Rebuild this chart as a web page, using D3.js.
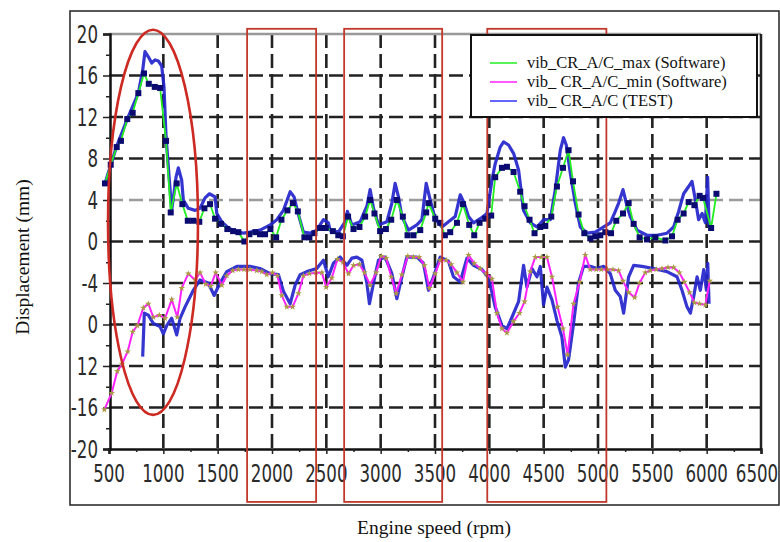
<!DOCTYPE html>
<html><head><meta charset="utf-8">
<script src="https://cdn.jsdelivr.net/npm/d3@7"></script>
<style>body{margin:0;background:#fff}svg{display:block}</style>
</head><body>
<svg id="chart" width="780" height="542"></svg>
<script>
// ---- data (engine speed rpm, displacement mm) ----
const maxSoftware = [[463,5.6],[516,7.4],[571,9.1],[610,9.7],[668,11.8],[718,12.4],[770,14.3],[822,16.2],[866,15.2],[921,14.9],[970,14.8],[1025,9.7],[1068,2.8],[1123,5.6],[1175,3.6],[1225,2.0],[1276,2.0],[1331,1.9],[1378,3.2],[1430,3.6],[1476,2.2],[1531,1.7],[1589,1.2],[1642,1.0],[1691,0.9],[1746,0.0],[1792,0.7],[1847,0.9],[1890,0.7],[1936,0.7],[1985,1.2],[2038,0.4],[2087,2.1],[2142,3.0],[2192,3.7],[2238,2.9],[2298,0.4],[2344,0.4],[2390,0.8],[2443,1.3],[2495,1.3],[2560,1.0],[2610,0.6],[2652,0.5],[2700,2.4],[2750,1.2],[2805,1.4],[2857,2.4],[2903,4.0],[2943,2.7],[2995,1.0],[3048,1.2],[3097,2.1],[3149,4.0],[3204,2.4],[3247,0.6],[3302,0.6],[3364,1.1],[3419,2.8],[3440,3.7],[3502,2.2],[3548,1.8],[3591,0.6],[3640,0.9],[3702,1.8],[3757,3.6],[3815,1.6],[3861,0.6],[3910,1.8],[3962,2.2],[4017,2.5],[4054,6.2],[4116,7.1],[4162,7.2],[4223,6.7],[4284,4.8],[4324,3.4],[4370,2.1],[4416,0.8],[4469,1.4],[4515,1.5],[4570,2.4],[4622,5.3],[4678,7.1],[4729,8.8],[4770,5.8],[4821,2.6],[4874,0.8],[4929,0.3],[4975,0.5],[5021,0.6],[5067,0.9],[5120,0.8],[5168,2.0],[5230,2.7],[5282,3.7],[5328,1.7],[5383,0.4],[5451,0.2],[5528,0.4],[5620,0.1],[5681,0.5],[5733,2.1],[5788,2.7],[5834,3.8],[5887,3.5],[5935,4.4],[5967,4.2],[6041,1.3],[6090,4.6]];

const minSoftware = [[457,-16.2],[525,-14.6],[576,-12.5],[620,-11.8],[672,-10.6],[718,-8.7],[761,-8.1],[816,-6.4],[862,-6.0],[908,-7.3],[963,-7.1],[1016,-7.4],[1077,-5.6],[1129,-7.3],[1169,-4.5],[1230,-3.1],[1292,-3.7],[1338,-3.0],[1390,-4.1],[1436,-4.3],[1482,-3.0],[1538,-4.2],[1584,-3.3],[1639,-2.8],[1691,-2.7],[1743,-2.7],[1798,-2.7],[1860,-2.8],[1906,-2.9],[1952,-3.2],[2004,-3.0],[2050,-3.3],[2090,-5.2],[2136,-6.3],[2190,-6.3],[2243,-5.0],[2289,-3.3],[2344,-3.1],[2403,-3.0],[2459,-3.0],[2498,-4.4],[2551,-3.5],[2602,-1.7],[2652,-2.0],[2704,-3.1],[2750,-2.3],[2805,-2.2],[2851,-3.0],[2903,-4.2],[2958,-3.0],[3005,-1.4],[3051,-1.6],[3097,-3.4],[3143,-5.0],[3195,-3.2],[3250,-1.4],[3302,-1.5],[3354,-1.5],[3403,-2.3],[3449,-4.5],[3502,-3.1],[3548,-1.8],[3603,-1.8],[3649,-2.2],[3702,-3.0],[3757,-3.9],[3809,-1.3],[3861,-2.1],[3916,-2.6],[3971,-3.1],[4024,-3.6],[4070,-6.9],[4116,-8.4],[4162,-8.8],[4223,-7.7],[4278,-6.9],[4324,-5.8],[4376,-2.9],[4423,-1.5],[4478,-1.5],[4530,-1.5],[4576,-3.4],[4628,-6.3],[4678,-8.4],[4720,-10.9],[4775,-6.0],[4831,-3.9],[4883,-1.3],[4929,-2.7],[4984,-2.7],[5030,-2.7],[5088,-2.7],[5138,-2.7],[5190,-2.8],[5230,-3.8],[5282,-4.9],[5337,-5.4],[5383,-4.0],[5435,-3.0],[5481,-2.8],[5537,-2.7],[5589,-2.6],[5644,-2.5],[5696,-2.5],[5749,-3.0],[5795,-3.9],[5843,-4.9],[5887,-5.9],[5935,-6.0],[5988,-6.1],[6028,-3.8]];

const testUpper = [[463,5.6],[571,9.2],[668,11.8],[770,14.3],[810,16.5],[831,18.3],[862,17.8],[893,17.2],[924,17.5],[954,17.4],[985,16.9],[1006,14.9],[1025,10.1],[1046,7.2],[1077,3.0],[1117,6.2],[1138,7.1],[1169,5.9],[1184,4.0],[1230,3.2],[1292,3.0],[1338,3.2],[1384,4.2],[1424,4.6],[1476,4.3],[1492,2.7],[1538,1.9],[1598,1.3],[1676,0.9],[1737,0.8],[1798,0.9],[1890,1.1],[1983,1.6],[2044,2.1],[2105,3.0],[2167,4.8],[2203,4.3],[2243,2.6],[2289,0.9],[2351,0.8],[2412,1.1],[2473,2.1],[2519,1.8],[2535,1.1],[2611,0.9],[2673,1.9],[2694,2.9],[2735,1.6],[2811,1.9],[2873,3.4],[2903,5.0],[2934,3.2],[2980,1.6],[3057,1.9],[3103,3.7],[3133,5.6],[3164,4.3],[3195,2.4],[3256,1.1],[3333,1.6],[3379,2.1],[3419,5.6],[3456,4.0],[3502,2.2],[3564,1.4],[3624,1.9],[3686,2.4],[3732,4.5],[3769,3.7],[3808,2.4],[3855,1.8],[3916,2.2],[3978,2.7],[4024,5.9],[4054,7.5],[4100,9.1],[4131,9.6],[4177,9.3],[4223,8.5],[4269,6.9],[4315,3.0],[4377,1.8],[4438,1.4],[4499,2.1],[4561,2.1],[4607,5.0],[4653,8.8],[4683,10.0],[4708,9.3],[4745,6.6],[4791,3.7],[4837,1.4],[4899,0.8],[4975,0.9],[5052,1.4],[5113,1.8],[5159,2.9],[5190,3.7],[5230,5.0],[5267,3.4],[5297,2.4],[5359,1.1],[5451,0.6],[5543,0.6],[5635,0.8],[5696,1.4],[5742,2.9],[5788,4.6],[5834,5.3],[5865,5.8],[5896,4.0],[5926,2.1],[5958,2.7],[5988,1.8],[6009,6.2],[6022,1.4]];

const testLower = [[810,-11.1],[825,-6.9],[862,-7.1],[908,-7.9],[970,-8.2],[1000,-8.9],[1031,-8.1],[1077,-7.4],[1123,-9.0],[1154,-7.4],[1200,-6.3],[1276,-4.7],[1338,-3.7],[1414,-4.0],[1467,-5.2],[1522,-4.0],[1584,-2.9],[1676,-2.4],[1798,-2.4],[1890,-2.6],[1983,-3.1],[2059,-3.2],[2105,-4.8],[2167,-6.0],[2213,-4.2],[2259,-3.2],[2320,-2.9],[2412,-2.6],[2473,-1.8],[2519,-3.4],[2565,-2.1],[2627,-1.5],[2689,-2.3],[2735,-1.6],[2781,-1.5],[2827,-1.8],[2873,-4.0],[2897,-6.0],[2934,-4.0],[2980,-1.8],[3041,-1.5],[3103,-3.1],[3149,-5.5],[3195,-3.4],[3241,-1.5],[3333,-1.5],[3394,-2.1],[3440,-4.7],[3486,-3.4],[3548,-1.5],[3624,-1.9],[3670,-3.4],[3732,-3.9],[3794,-1.6],[3855,-2.3],[3932,-2.7],[3993,-3.5],[4054,-6.3],[4116,-8.1],[4162,-8.4],[4208,-7.3],[4269,-5.8],[4315,-2.3],[4346,-4.4],[4392,-2.6],[4438,-3.4],[4469,-2.4],[4499,-6.1],[4530,-4.4],[4576,-5.6],[4622,-7.6],[4668,-9.2],[4699,-12.1],[4729,-11.4],[4775,-7.9],[4821,-4.0],[4867,-2.4],[4929,-2.4],[4991,-2.6],[5052,-2.4],[5113,-3.1],[5159,-4.7],[5205,-5.3],[5236,-6.9],[5282,-3.4],[5328,-2.3],[5405,-2.4],[5512,-2.6],[5635,-2.9],[5727,-3.4],[5773,-4.7],[5819,-6.3],[5850,-6.9],[5881,-5.3],[5912,-3.4],[5942,-4.7],[5973,-2.7],[5998,-4.7],[6010,-2.1],[6022,-6.0]];

const xTicks = [500,1000,1500,2000,2500,3000,3500,4000,4500,5000,5500,6000,6500];
const xTickLabels = ["500","1000","1500","2000","2500","3000","3500","4000","4500","5000","5500","6000","6500"];
const yTicks = [20,16,12,8,4,0,-4,-8,-12,-16,-20];
const yTickLabels = ["20","16","12","8","4","0","-4","0","12","-16","-20"];
const seriesNames = ["vib_CR_A/C_max (Software)","vib_ CR_A/C_min (Software)","vib_ CR_A/C (TEST)"];
const seriesColors = ["#22ee22","#ff22ff","#3333ff"];
const axisTitles = ["Engine speed (rpm)","Displacement (mm)"];
// highlighted regions (rpm ranges) and ellipse annotation (rpm/mm)
const regionRanges = [[1771,2406],[2664,3566],[3981,5077]];
const regionSpan = [20.5,-25.1];
const ellipseAnn = {cx:905, rx:414, cy:1.85, ry:18.56};

// ---- drawing ----
const svg = d3.select("#chart");
const x = d3.scaleLinear().domain([500,6500]).range([109,761]);
const y = d3.scaleLinear().domain([-20,20]).range([449,34]);
const serif = "'Liberation Serif','Times New Roman',serif";

// outer frame
svg.append("rect").attr("x",70).attr("y",11).attr("width",709).attr("height",494)
  .attr("fill","#fff").attr("stroke","#222").attr("stroke-width",1.5);

// y axis title
svg.append("text")
  .attr("x",0).attr("y",0)
  .attr("transform","translate(29,257) rotate(-90)")
  .attr("text-anchor","middle")
  .style("font-family",serif).style("font-size","19.5px").style("fill","#111")
  .text(axisTitles[1]);

const g = svg.append("g");

// grid
const vGrid = d3.range(1000,6001,500);
g.selectAll(".vg").data(vGrid).join("line")
  .attr("x1",d=>x(d)).attr("x2",d=>x(d)).attr("y1",y(20)).attr("y2",y(-20))
  .attr("stroke","#222").attr("stroke-width",2.6).attr("stroke-dasharray","14,6");
const hGrid = [16,12,8,4,0,-4,-8,-12,-16];
g.selectAll(".hg").data(hGrid).join("line")
  .attr("x1",x(500)).attr("x2",x(6500)).attr("y1",d=>y(d)).attr("y2",d=>y(d))
  .attr("stroke",d=>d===4?"#9a9a9a":"#222").attr("stroke-width",2.6).attr("stroke-dasharray","14,6");
g.append("line").attr("x1",x(500)).attr("x2",x(6500)).attr("y1",y(20)).attr("y2",y(20))
  .attr("stroke","#999").attr("stroke-width",2.5);
g.append("line").attr("x1",x(6500)).attr("x2",x(6500)).attr("y1",y(20)).attr("y2",y(-20))
  .attr("stroke","#222").attr("stroke-width",2.5);

// axes
const xAxis = d3.axisBottom(x).tickValues(xTicks).tickSize(5).tickFormat("");
const xMinor = d3.axisBottom(x).tickValues(d3.range(750,6500,500)).tickSize(3).tickFormat("");
const gx = g.append("g").attr("transform",`translate(0,${y(-20)})`).call(xAxis);
g.append("g").attr("transform",`translate(0,${y(-20)})`).call(xMinor).select(".domain").remove();
gx.select(".domain").attr("stroke","#111").attr("stroke-width",2.5);

const yAxis = d3.axisLeft(y).tickValues(yTicks).tickSize(7).tickFormat("");
const yMinor = d3.axisLeft(y).tickValues(d3.range(-18,19,4)).tickSize(4).tickFormat("");
const gy = g.append("g").attr("transform",`translate(${x(500)+1},0)`).call(yAxis);
g.append("g").attr("transform",`translate(${x(500)+1},0)`).call(yMinor).select(".domain").remove();
gy.select(".domain").attr("stroke","#111").attr("stroke-width",2.5);
g.selectAll(".tick line").attr("stroke","#222").attr("stroke-width",1.5);

// tick labels (narrow font, stretched vertically)
const labFont = "'Liberation Sans Narrow','DejaVu Sans Condensed','Liberation Sans',Arial,sans-serif";
g.selectAll(".xl").data(xTicks).join("text")
  .attr("x",0).attr("y",0)
  .attr("transform",(d,i)=>`translate(${x(d)+(i===xTicks.length-1?-4:0)},482) scale(1,1.3)`)
  .attr("text-anchor","middle")
  .attr("font-family",labFont).attr("font-size",18.5).attr("fill","#2a2a2a")
  .text((d,i)=>xTickLabels[i]);
g.selectAll(".yl").data(yTicks).join("text")
  .attr("x",0).attr("y",0)
  .attr("transform",d=>`translate(98,${y(d)+8.5}) scale(1,1.3)`)
  .attr("text-anchor","end")
  .attr("font-family",labFont).attr("font-size",18.5).attr("fill","#2a2a2a")
  .text((d,i)=>yTickLabels[i]);

// series
const line = d3.line().x(d=>x(d[0])).y(d=>y(d[1]));
[testUpper,testLower].forEach(s=>{
  g.append("path").datum(s).attr("d",line).attr("fill","none")
    .attr("stroke","#2424cc").attr("stroke-width",3.2).attr("stroke-opacity",0.92).attr("stroke-linejoin","round");
});
g.append("path").datum(maxSoftware).attr("d",line).attr("fill","none")
  .attr("stroke",seriesColors[0]).attr("stroke-width",1.8);
g.append("path").datum(minSoftware).attr("d",line).attr("fill","none")
  .attr("stroke",seriesColors[1]).attr("stroke-width",2);
g.selectAll(".sq").data(maxSoftware).join("rect")
  .attr("x",d=>x(d[0])-3).attr("y",d=>y(d[1])-3).attr("width",6).attr("height",6)
  .attr("fill","#0a0a70");
g.selectAll(".st").data(minSoftware).join("path")
  .attr("d",d3.symbol().type(d3.symbolStar).size(14))
  .attr("transform",d=>`translate(${x(d[0])},${y(d[1])})`)
  .attr("fill","#a89a40");

// red annotations
g.selectAll(".reg").data(regionRanges).join("rect")
  .attr("x",d=>x(d[0])).attr("width",d=>x(d[1])-x(d[0]))
  .attr("y",y(regionSpan[0])).attr("height",y(regionSpan[1])-y(regionSpan[0]))
  .attr("fill","none").attr("stroke","#c0392b").attr("stroke-width",1.8);
g.append("ellipse")
  .attr("cx",x(ellipseAnn.cx)).attr("cy",y(ellipseAnn.cy))
  .attr("rx",x(ellipseAnn.cx+ellipseAnn.rx)-x(ellipseAnn.cx))
  .attr("ry",y(ellipseAnn.cy-ellipseAnn.ry)-y(ellipseAnn.cy))
  .attr("fill","none").attr("stroke","#cc2a22").attr("stroke-width",2.6);

// legend
const lg = svg.append("g");
lg.append("rect").attr("x",471).attr("y",35).attr("width",286).attr("height",82)
  .attr("fill","#fff").attr("stroke","#111").attr("stroke-width",2);
seriesNames.forEach((n,i)=>{
  const yy = 63 + i*19;
  lg.append("line").attr("x1",490).attr("x2",517).attr("y1",yy).attr("y2",yy)
    .attr("stroke",seriesColors[i]).attr("stroke-width",1.5);
  lg.append("text").attr("x",527).attr("y",yy+5).text(n)
    .attr("font-family",serif).attr("font-size",16.5).attr("fill","#111");
});

// x axis title
svg.append("text").attr("x",434).attr("y",534).attr("text-anchor","middle")
  .attr("font-family",serif).attr("font-size",19.5).attr("fill","#111")
  .text(axisTitles[0]);
</script>
</body></html>
